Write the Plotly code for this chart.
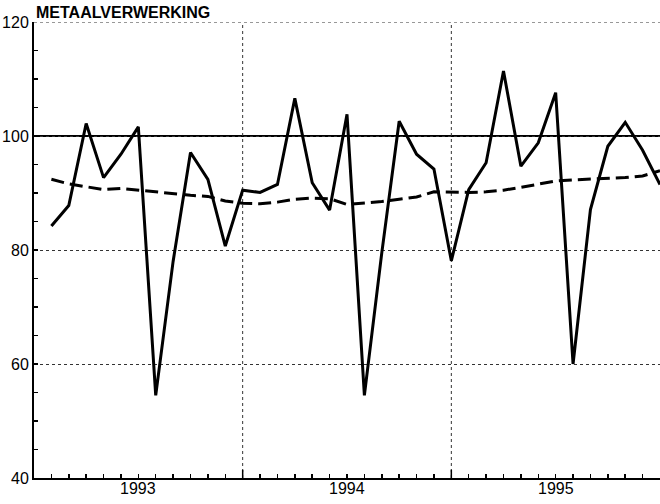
import plotly.graph_objects as go

TITLE = "METAALVERWERKING"
MONTH_INDEX = list(range(1, 37))
VALUES = [84.2, 87.8, 102.2, 92.7, 96.8, 101.6, 54.5, 78.0, 97.1, 92.4, 80.7, 90.5,
          90.1, 91.5, 106.6, 91.8, 87.0, 103.8, 54.5, 79.5, 102.6, 96.8, 94.2, 78.1,
          90.6, 95.3, 111.4, 94.7, 98.8, 107.6, 60.0, 87.1, 98.2, 102.4, 97.5, 91.5]
TREND = [92.4, 91.6, 91.1, 90.6, 90.8, 90.5, 90.1, 89.8, 89.6, 89.4, 88.6, 88.2,
         88.1, 88.4, 88.9, 89.1, 89.0, 88.0, 88.2, 88.5, 88.9, 89.3, 90.2, 90.1,
         90.1, 90.2, 90.5, 91.0, 91.6, 92.1, 92.3, 92.4, 92.6, 92.7, 93.0, 93.9]
YEARS = ["1993", "1994", "1995"]
YEAR_MID = [6, 18, 30]
YEAR_BOUNDS = [12, 24]
REFERENCE = 100
Y_TICKS = [40, 60, 80, 100, 120]

FONT = "Liberation Sans"

fig = go.Figure()
fig.add_trace(go.Scatter(x=MONTH_INDEX, y=TREND, mode="lines",
                         line=dict(color="black", width=3, dash="13px,6px"),
                         hoverinfo="skip"))
fig.add_trace(go.Scatter(x=MONTH_INDEX, y=VALUES, mode="lines",
                         line=dict(color="black", width=3),
                         hoverinfo="skip"))

shapes = [dict(type="line", xref="paper", x0=0, x1=1, yref="y", y0=REFERENCE, y1=REFERENCE,
               line=dict(color="black", width=2), layer="below")]
for b in YEAR_BOUNDS:
    shapes.append(dict(type="line", xref="x", x0=b, x1=b, yref="paper", y0=0, y1=1,
                       line=dict(color="#333", width=1, dash="dot"), layer="below"))
    shapes.append(dict(type="line", xref="x", x0=b, x1=b, yref="paper", y0=0, y1=0.018,
                       line=dict(color="black", width=1.5)))
shapes.append(dict(type="line", xref="paper", x0=0, x1=1, yref="y", y0=120, y1=120,
                   line=dict(color="#333", width=1, dash="dot"), layer="below"))

annotations = []
for yr, m in zip(YEARS, YEAR_MID):
    annotations.append(dict(text=yr, xref="x", x=m, yref="paper", y=0, xanchor="center",
                            yanchor="top", showarrow=False, yshift=0,
                            font=dict(family=FONT, size=16, color="black")))

fig.update_layout(
    template="none",
    width=660, height=504,
    margin=dict(l=34, r=0, t=22, b=26, pad=0),
    paper_bgcolor="white", plot_bgcolor="white",
    font=dict(family=FONT),
    title=dict(text="<b>" + TITLE + "</b>", x=36 / 660, xref="container", xanchor="left",
               y=1 - 18 / 504, yref="container", yanchor="bottom",
               font=dict(family=FONT, size=16, color="black"), pad=dict(t=0, b=0, l=0, r=0)),
    showlegend=False,
    shapes=shapes, annotations=annotations,
    xaxis=dict(range=[0, 36], tickmode="linear", tick0=0, dtick=1, automargin=False,
               ticks="inside", ticklen=4, tickcolor="black", tickwidth=1.5,
               showticklabels=False, showgrid=False, zeroline=False,
               showline=True, linecolor="black", linewidth=2),
    yaxis=dict(range=[40, 120], tickvals=Y_TICKS, ticks="inside", ticklen=4,
               automargin=False,
               tickcolor="black", tickwidth=1.5,
               tickfont=dict(family=FONT, size=16, color="black"),
               ticklabelstandoff=0,
               showgrid=True, gridcolor="#333", gridwidth=1, griddash="dot",
               zeroline=False, showline=True, linecolor="black", linewidth=2,
               minor=dict(dtick=5, tick0=0, ticks="inside", ticklen=4, tickcolor="black",
                          showgrid=False)),
)

fig.write_html("out.html", config={"displayModeBar": False, "staticPlot": True},
               post_script="document.body.style.margin='0';")
